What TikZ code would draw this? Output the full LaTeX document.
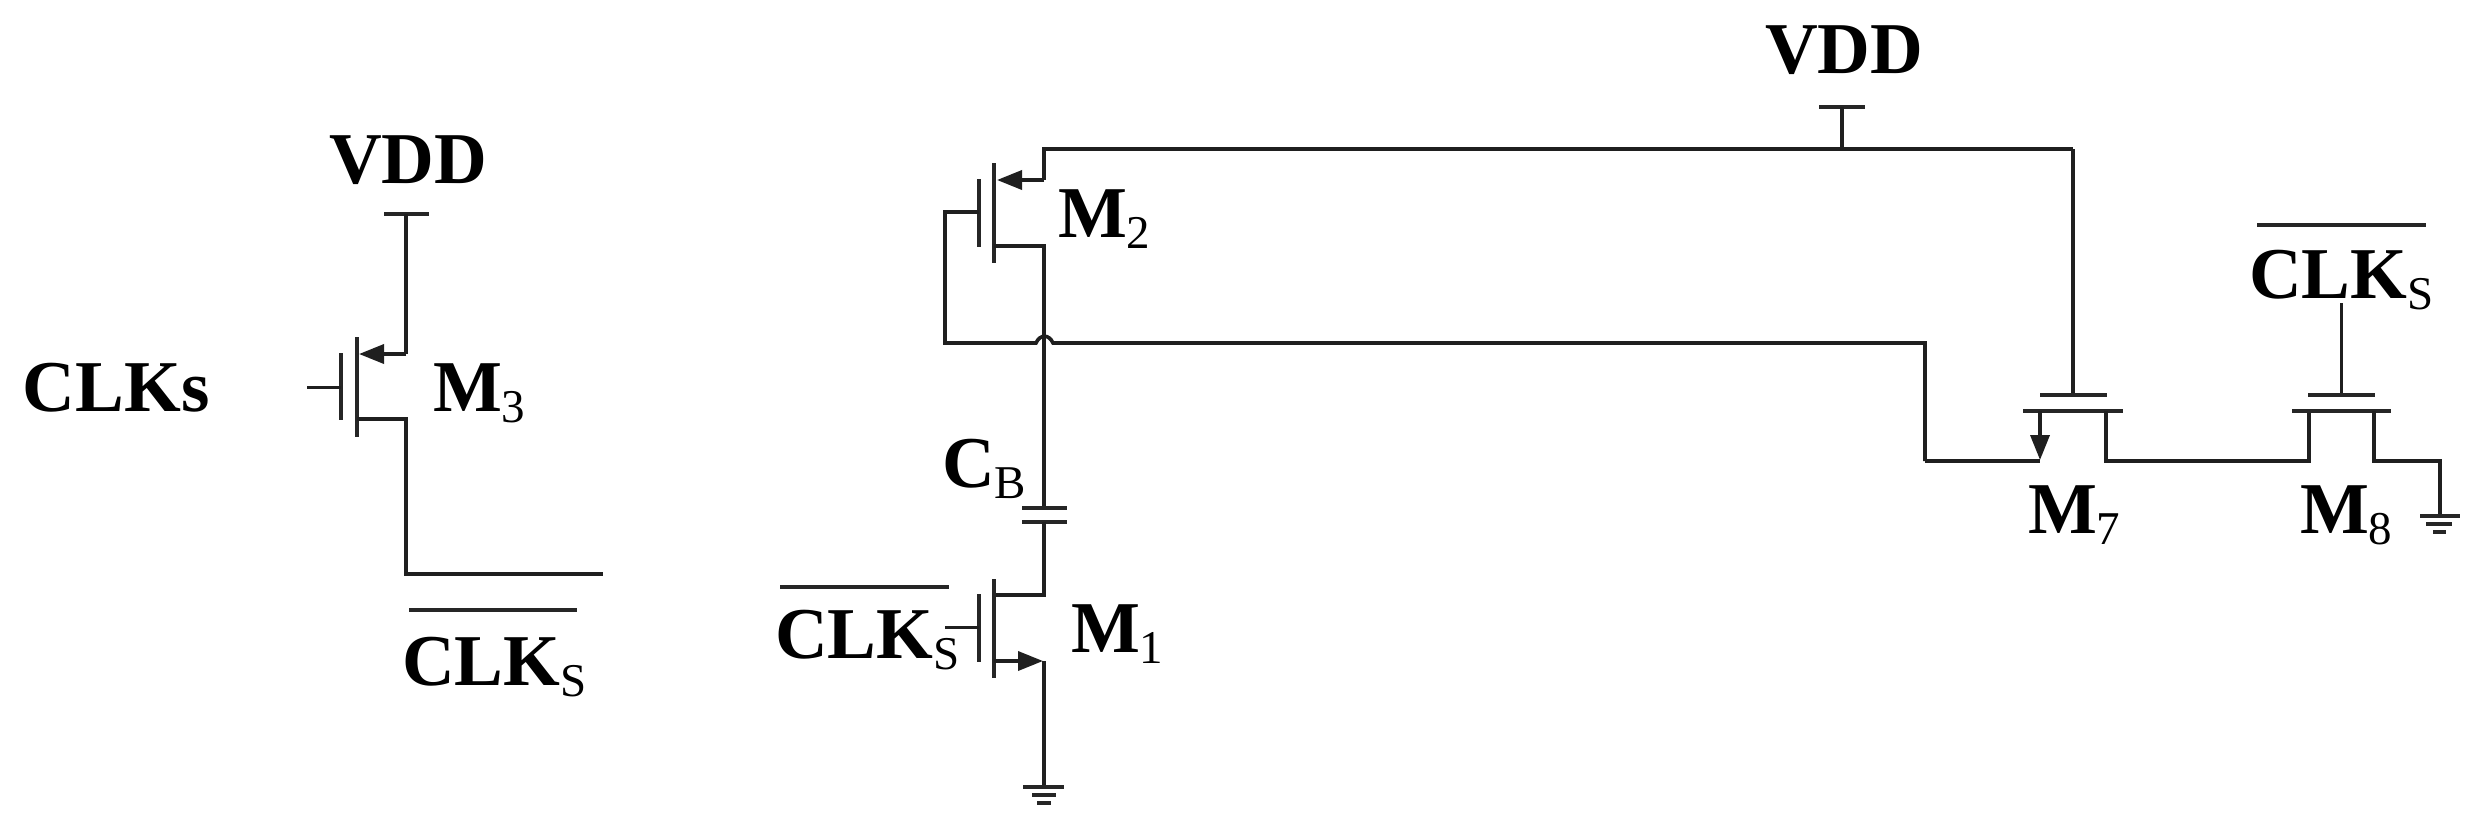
\documentclass[tikz,border=0pt]{standalone}
\usepackage{fontspec}
\setmainfont{Liberation Serif}
\usetikzlibrary{arrows.meta}
\newcommand{\mainsz}{\fontsize{73}{75}\selectfont\bfseries}
\newcommand{\subsz}[1]{\raisebox{-11pt}{\fontsize{47}{49}\selectfont\mdseries #1}}
\tikzset{
  wire/.style={line width=3.6pt,draw=black!88},
  thin wire/.style={line width=3pt,draw=black!88},
  plate/.style={line width=4pt,draw=black!85},
  arrowwire/.style={wire,-{Triangle[length=25pt,width=19pt]}},
  lbl/.style={anchor=base west,inner sep=0pt,outer sep=0pt,font=\mainsz,text=black},
  bar/.style={line width=3.6pt,draw=black!85},
}
\begin{document}
\begin{tikzpicture}[x=1pt,y=-1pt]
\useasboundingbox (0,0) rectangle (2478,820);
% ---- M3 ----
\coordinate (v3l) at (384,214); \coordinate (v3r) at (429,214); \coordinate (v3) at (406,214);
\coordinate (m3s) at (406,354); \coordinate (m3sc) at (359,354);
\coordinate (m3d) at (406,419); \coordinate (m3dc) at (357,419);
\coordinate (m3ct) at (357,337); \coordinate (m3cb) at (357,437);
\coordinate (m3gt) at (341,353); \coordinate (m3gb) at (341,420);
\coordinate (m3g) at (341,387); \coordinate (m3in) at (307,387);
\coordinate (m3o) at (406,574); \coordinate (m3oe) at (603,574);
\draw[bar] (v3l) -- (v3r);
\draw[wire] (v3) -- (m3s);
\draw[arrowwire] (m3s) -- (m3sc);
\draw[plate] (m3ct) -- (m3cb);
\draw[plate] (m3gt) -- (m3gb);
\draw[thin wire] (m3in) -- (m3g);
\draw[wire] (m3dc) -- (m3d) -- (m3o) -- (m3oe);
\node[lbl] (vdda) at (329,183) {VDD};
\node[lbl] (clka) at (23,411) {CLKs};
\node[lbl] (m3) at (433,411) {M\subsz{3}};
\node[lbl] (clkb) at (402,685) {CLK\subsz{S}};
\coordinate (ob1) at (409,610); \coordinate (ob2) at (577,610);
\draw[bar] (ob1) -- (ob2);
% ---- M2 ----
\coordinate (t1) at (1044,149); \coordinate (t2) at (1842,149); \coordinate (t3) at (2073,149);
\coordinate (m2s) at (1044,180); \coordinate (m2sc) at (997,180);
\coordinate (m2ct) at (994,163); \coordinate (m2cb) at (994,263);
\coordinate (m2gt) at (979,179); \coordinate (m2gb) at (979,247);
\coordinate (m2g) at (979,212); \coordinate (m2gw) at (945,212);
\coordinate (m2dc) at (994,246); \coordinate (m2d) at (1044,246);
\coordinate (fb1) at (945,343); \coordinate (h1) at (1036,343); \coordinate (h2) at (1053,343);
\coordinate (fb2) at (1925,343); \coordinate (fb3) at (1925,461);
\draw[wire] (t3) -- (t1) -- (m2s);
\draw[arrowwire] (m2s) -- (m2sc);
\draw[plate] (m2ct) -- (m2cb);
\draw[plate] (m2gt) -- (m2gb);
\draw[wire] (m2g) -- (m2gw) -- (fb1) -- (h1)
   .. controls (1040,334) and (1049,334) .. (h2) -- (fb2) -- (fb3);
\coordinate (ct) at (1044,508); \coordinate (cb) at (1044,522);
\draw[wire] (m2dc) -- (m2d) -- (ct);
\coordinate (c1l) at (1022,508); \coordinate (c1r) at (1067,508);
\coordinate (c2l) at (1022,522); \coordinate (c2r) at (1067,522);
\draw[bar] (c1l) -- (c1r);
\draw[bar] (c2l) -- (c2r);
\node[lbl] (m2) at (1058,237) {M\subsz{2}};
\node[lbl] (cb lab) at (942,487) {C\subsz{B}};
% ---- M1 ----
\coordinate (m1d) at (1044,595); \coordinate (m1dc) at (994,595);
\coordinate (m1ct) at (994,579); \coordinate (m1cb) at (994,678);
\coordinate (m1gt) at (979,594); \coordinate (m1gb) at (979,662);
\coordinate (m1g) at (979,627); \coordinate (m1in) at (945,627);
\coordinate (m1sc) at (994,661); \coordinate (m1s) at (1043,661);
\coordinate (m1sw) at (1044,661); \coordinate (g1) at (1044,787);
\draw[wire] (cb) -- (m1d) -- (m1dc);
\draw[plate] (m1ct) -- (m1cb);
\draw[plate] (m1gt) -- (m1gb);
\draw[thin wire] (m1in) -- (m1g);
\draw[arrowwire] (m1sc) -- (m1s);
\draw[wire] (m1sw) -- (g1);
\coordinate (g1al) at (1023,787); \coordinate (g1ar) at (1064,787);
\coordinate (g1bl) at (1032,795); \coordinate (g1br) at (1056,795);
\coordinate (g1cl) at (1037,803); \coordinate (g1cr) at (1051,803);
\draw[bar] (g1al) -- (g1ar);
\draw[bar] (g1bl) -- (g1br);
\draw[bar] (g1cl) -- (g1cr);
\node[lbl] (clkc) at (775,658) {CLK\subsz{S}};
\coordinate (oc1) at (780,587); \coordinate (oc2) at (949,587);
\draw[bar] (oc1) -- (oc2);
\node[lbl] (m1) at (1071,652) {M\subsz{1}};
% ---- VDD top ----
\coordinate (v2l) at (1819,107); \coordinate (v2r) at (1865,107); \coordinate (v2) at (1842,107);
\draw[bar] (v2l) -- (v2r);
\draw[wire] (v2) -- (t2);
\node[lbl] (vddb) at (1765,73) {VDD};
% ---- M7 ----
\coordinate (m7g) at (2073,395);
\coordinate (m7gl) at (2040,395); \coordinate (m7gr) at (2107,395);
\coordinate (m7cl) at (2023,411); \coordinate (m7cr) at (2123,411);
\coordinate (m7a) at (2040,411); \coordinate (m7b) at (2040,460); \coordinate (m7w) at (2040,461);
\coordinate (m7d) at (2106,411); \coordinate (m78a) at (2106,461); \coordinate (m78b) at (2309,461); \coordinate (m8s) at (2309,411);
\draw[wire] (t3) -- (m7g);
\draw[plate] (m7gl) -- (m7gr);
\draw[plate] (m7cl) -- (m7cr);
\draw[wire] (fb3) -- (m7w);
\draw[arrowwire] (m7a) -- (m7b);
\draw[wire] (m7d) -- (m78a) -- (m78b) -- (m8s);
\node[lbl] (m7) at (2028,533) {M\subsz{7}};
% ---- M8 ----
\coordinate (m8g) at (2341,395); \coordinate (m8in) at (2341,303);
\coordinate (m8gl) at (2308,395); \coordinate (m8gr) at (2375,395);
\coordinate (m8cl) at (2292,411); \coordinate (m8cr) at (2391,411);
\coordinate (m8d) at (2374,411); \coordinate (m8e) at (2374,461); \coordinate (m8f) at (2440,461); \coordinate (g2) at (2440,516);
\draw[thin wire] (m8in) -- (m8g);
\draw[plate] (m8gl) -- (m8gr);
\draw[plate] (m8cl) -- (m8cr);
\draw[wire] (m8d) -- (m8e) -- (m8f) -- (g2);
\coordinate (g2al) at (2420,516); \coordinate (g2ar) at (2460,516);
\coordinate (g2bl) at (2426,524); \coordinate (g2br) at (2452,524);
\coordinate (g2cl) at (2433,532); \coordinate (g2cr) at (2446,532);
\draw[bar] (g2al) -- (g2ar);
\draw[bar] (g2bl) -- (g2br);
\draw[bar] (g2cl) -- (g2cr);
\node[lbl] (m8) at (2300,533) {M\subsz{8}};
\node[lbl] (clkd) at (2249,298) {CLK\subsz{S}};
\coordinate (od1) at (2257,225); \coordinate (od2) at (2426,225);
\draw[bar] (od1) -- (od2);
\end{tikzpicture}
\end{document}
